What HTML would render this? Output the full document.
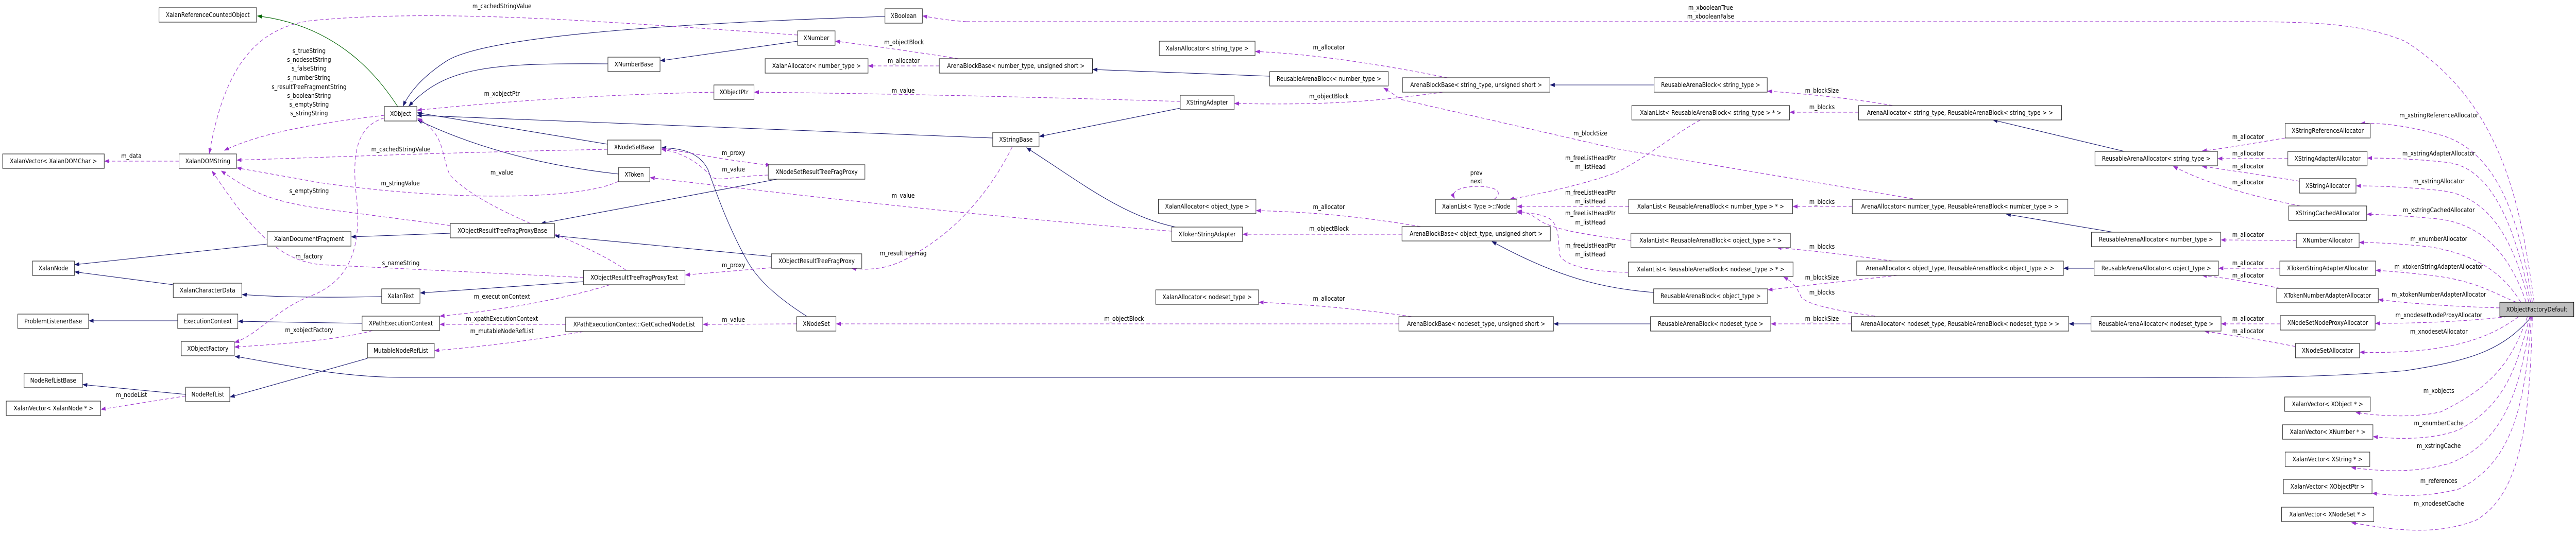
<!DOCTYPE html>
<html><head><meta charset="utf-8"><style>
html,body{margin:0;padding:0;background:#fff;width:100%;height:100%;overflow:hidden;}
svg{display:block;position:absolute;left:0;top:0;width:100vw;height:100vh;}
text{font-family:"DejaVu Sans","Liberation Sans",sans-serif;font-size:12.3px;fill:#000;}
.b{fill:#fff;stroke:#333;stroke-width:1.2;}
.e{fill:none;stroke:#191970;stroke-width:1.1;}
.g{fill:none;stroke:#006400;stroke-width:1.1;}
.d{fill:none;stroke:#9a32cd;stroke-width:1.1;stroke-dasharray:8,5;}
</style></head><body>
<svg viewBox="0 0 5784 1041" preserveAspectRatio="none" xmlns="http://www.w3.org/2000/svg">
<defs>
<marker id="ab" markerWidth="11" markerHeight="8" refX="10" refY="4" orient="auto" markerUnits="userSpaceOnUse"><path d="M0,0 L11,4 L0,8 z" fill="#191970"/></marker>
<marker id="ap" markerWidth="11" markerHeight="8" refX="10" refY="4" orient="auto" markerUnits="userSpaceOnUse"><path d="M0,0 L11,4 L0,8 z" fill="#9a32cd"/></marker>
<marker id="ag" markerWidth="11" markerHeight="8" refX="10" refY="4" orient="auto" markerUnits="userSpaceOnUse"><path d="M0,0 L11,4 L0,8 z" fill="#006400"/></marker>
</defs>

<path class="g" marker-end="url(#ag)" d="M893,207 C850,150 760,50 578,31"/>
<path class="e" marker-end="url(#ab)" d="M1987,32 C1700,40 1100,60 1000,120 Q930,160 905,206"/>
<path class="e" marker-end="url(#ab)" d="M1365,124 C1100,122 1000,130 918,206"/>
<path class="e" marker-end="url(#ab)" d="M1364,280 L937,219"/>
<path class="e" marker-end="url(#ab)" d="M1389,338 C1200,320 1050,280 938,233"/>
<path class="e" marker-end="url(#ab)" d="M2229,268 L937,224"/>
<path class="e" marker-end="url(#ab)" d="M1791,80 L1483,118"/>
<path class="e" marker-end="url(#ab)" d="M1811,614 C1740,575 1700,540 1680,510 C1640,450 1610,380 1590,330 C1570,295 1530,288 1486,287"/>
<path class="e" marker-end="url(#ab)" d="M1745,348 L1215,434"/>
<path class="e" marker-end="url(#ab)" d="M1732,498 L1246,458"/>
<path class="e" marker-end="url(#ab)" d="M1011,453 L789,460"/>
<path class="e" marker-end="url(#ab)" d="M600,474 L168,514"/>
<path class="e" marker-end="url(#ab)" d="M389,553 L168,528"/>
<path class="e" marker-end="url(#ab)" d="M1310,547 L944,569"/>
<path class="e" marker-end="url(#ab)" d="M857,576 C750,578 640,578 544,572"/>
<path class="e" marker-end="url(#ab)" d="M399,623 L200,623"/>
<path class="e" marker-end="url(#ab)" d="M813,628 L535,624"/>
<path class="e" marker-end="url(#ab)" d="M417,766 L186,747"/>
<path class="e" marker-end="url(#ab)" d="M825,696 L517,771"/>
<path class="e" marker-end="url(#ab)" d="M5684,615 C5620,680 5550,700 5400,720 C5200,735 5000,733 4800,733 L900,733 C760,732 650,710 528,692"/>
<path class="e" marker-end="url(#ab)" d="M2650,210 L2334,265"/>
<path class="e" marker-end="url(#ab)" d="M2640,441 C2520,420 2420,350 2305,287"/>
<path class="e" marker-end="url(#ab)" d="M2851,148 L2454,135"/>
<path class="e" marker-end="url(#ab)" d="M3714,165 L3481,165"/>
<path class="e" marker-end="url(#ab)" d="M3713,568 C3600,560 3500,540 3350,469"/>
<path class="e" marker-end="url(#ab)" d="M3706,629 L3489,629"/>
<path class="e" marker-end="url(#ab)" d="M4770,294 L4475,233"/>
<path class="e" marker-end="url(#ab)" d="M4745,451 L4505,416"/>
<path class="e" marker-end="url(#ab)" d="M4702,521 L4634,521"/>
<path class="e" marker-end="url(#ab)" d="M4695,629 L4646,629"/>

<path class="d" marker-end="url(#ap)" d="M402,313 L235,313"/>
<path class="d" marker-end="url(#ap)" d="M417,769 L227,795"/>
<path class="d" marker-end="url(#ap)" d="M1791,68 C1400,45 1000,15 700,40 C560,55 500,150 470,298"/>
<path class="d" marker-end="url(#ap)" d="M863,224 C700,240 580,260 504,292"/>
<path class="d" marker-end="url(#ap)" d="M1364,290 C1000,296 720,306 532,311"/>
<path class="d" marker-end="url(#ap)" d="M1389,352 C1300,390 1000,390 720,355 L532,326"/>
<path class="d" marker-end="url(#ap)" d="M1011,438 L720,405 C600,390 560,370 497,332"/>
<path class="d" marker-end="url(#ap)" d="M1310,539 L720,514 C620,505 560,440 476,332"/>
<path class="d" marker-end="url(#ap)" d="M863,229 C800,245 790,300 800,380 C810,460 800,540 700,574 C620,600 580,650 527,665"/>
<path class="d" marker-end="url(#ap)" d="M837,642 C760,660 640,668 527,674"/>
<path class="d" marker-end="url(#ap)" d="M1603,179 C1300,185 1100,200 937,214"/>
<path class="d" marker-end="url(#ap)" d="M2650,197 C2300,188 2000,182 1694,179"/>
<path class="d" marker-end="url(#ap)" d="M1486,288 C1560,298 1620,310 1730,321"/>
<path class="d" marker-end="url(#ap)" d="M1725,340 C1650,342 1620,352 1600,345 C1570,318 1540,298 1486,290"/>
<path class="d" marker-end="url(#ap)" d="M1406,525 C1300,460 1100,420 1010,340 C990,300 1000,260 938,230"/>
<path class="d" marker-end="url(#ap)" d="M2631,449 C2200,420 1800,380 1460,345"/>
<path class="d" marker-end="url(#ap)" d="M1732,520 L1539,534"/>
<path class="d" marker-end="url(#ap)" d="M2273,285 C2230,360 2160,440 2060,490 C2000,525 1950,525 1912,521"/>
<path class="d" marker-end="url(#ap)" d="M1370,553 C1250,585 1100,605 988,614"/>
<path class="d" marker-end="url(#ap)" d="M1270,630 L988,630"/>
<path class="d" marker-end="url(#ap)" d="M1310,644 C1200,660 1100,672 976,681"/>
<path class="d" marker-end="url(#ap)" d="M1789,629 L1579,630"/>
<path class="d" marker-end="url(#ap)" d="M2152,114 C2050,100 1950,88 1876,80"/>
<path class="d" marker-end="url(#ap)" d="M2109,128 L1950,128"/>
<path class="d" marker-end="url(#ap)" d="M3250,151 C3100,125 2950,105 2819,100"/>
<path class="d" marker-end="url(#ap)" d="M3240,179 C3100,195 3000,205 2772,201"/>
<path class="d" marker-end="url(#ap)" d="M3190,440 C3050,420 2950,412 2821,409"/>
<path class="d" marker-end="url(#ap)" d="M3148,455 L2791,455"/>
<path class="d" marker-end="url(#ap)" d="M3170,615 C3050,600 2950,592 2827,587"/>
<path class="d" marker-end="url(#ap)" d="M3141,629 L1878,629"/>
<path class="d" marker-end="url(#ap)" d="M4295,386 L3630,289 L3145,193 Q3125,180 3107,171"/>
<path class="d" marker-end="url(#ap)" d="M4250,205 C4150,190 4050,182 3969,177"/>
<path class="d" marker-end="url(#ap)" d="M4173,218 L4019,218"/>
<path class="d" marker-end="url(#ap)" d="M4159,401 L4026,401"/>
<path class="d" marker-end="url(#ap)" d="M4250,507 C4150,495 4050,485 3990,481"/>
<path class="d" marker-end="url(#ap)" d="M4260,535 C4150,545 4050,555 3970,563"/>
<path class="d" marker-end="url(#ap)" d="M4210,614 C4100,600 4060,590 4045,578 C4035,560 4030,550 4005,538"/>
<path class="d" marker-end="url(#ap)" d="M4157,629 L3977,629"/>
<path class="d" marker-end="url(#ap)" d="M3818,233 C3760,260 3710,299 3630,335 C3550,360 3450,378 3390,387"/>
<path class="d" marker-end="url(#ap)" d="M3657,401 L3407,401"/>
<path class="d" marker-end="url(#ap)" d="M3662,467 C3600,460 3500,450 3460,430 C3440,418 3430,412 3407,410"/>
<path class="d" marker-end="url(#ap)" d="M3656,529 C3570,528 3510,515 3502,495 C3498,470 3503,440 3480,425 C3460,415 3430,413 3407,413"/>
<path class="d" marker-end="url(#ap)" d="M3355,387 C3380,370 3350,362 3320,362 C3290,362 3255,368 3266,385"/>
<path class="d" d="M2170,42 L5000,42 C5200,42 5300,45 5400,80 C5620,200 5660,400 5690,587"/>
<path class="d" marker-end="url(#ap)" d="M2170,42 C2130,40 2100,35 2072,31"/>
<path class="d" marker-end="url(#ap)" d="M5131,268 C5060,278 5000,288 4945,293"/>
<path class="d" marker-end="url(#ap)" d="M5137,308 L4980,308"/>
<path class="d" marker-end="url(#ap)" d="M5163,352 C5080,340 5000,330 4945,323"/>
<path class="d" marker-end="url(#ap)" d="M5165,400 C5050,380 4950,355 4880,323"/>
<path class="d" marker-end="url(#ap)" d="M5156,467 L4987,466"/>
<path class="d" marker-end="url(#ap)" d="M5119,521 L4982,521"/>
<path class="d" marker-end="url(#ap)" d="M5120,560 C5050,548 5000,540 4945,535"/>
<path class="d" marker-end="url(#ap)" d="M5120,629 L4988,629"/>
<path class="d" marker-end="url(#ap)" d="M5154,673 C5080,660 5000,650 4950,643"/>
<path class="d" marker-end="url(#ap)" d="M5686,587 C5660,450 5620,290 5470,260 C5400,243 5340,238 5300,240"/>
<path class="d" marker-end="url(#ap)" d="M5682,587 C5650,450 5600,330 5500,316 C5420,308 5360,307 5316,307"/>
<path class="d" marker-end="url(#ap)" d="M5678,587 C5640,450 5580,380 5480,370 C5400,363 5340,361 5291,361"/>
<path class="d" marker-end="url(#ap)" d="M5672,587 C5630,480 5560,430 5460,424 C5400,419 5350,417 5315,416"/>
<path class="d" marker-end="url(#ap)" d="M5660,587 C5620,530 5560,495 5460,480 C5400,474 5340,471 5298,471"/>
<path class="d" marker-end="url(#ap)" d="M5650,587 C5600,570 5560,545 5460,535 C5400,529 5370,527 5335,525"/>
<path class="d" marker-end="url(#ap)" d="M5613,598 C5500,595 5420,590 5341,582"/>
<path class="d" marker-end="url(#ap)" d="M5630,615 C5560,622 5460,628 5334,628"/>
<path class="d" marker-end="url(#ap)" d="M5655,615 C5600,650 5540,670 5440,680 C5380,685 5330,685 5299,684"/>
<path class="d" marker-end="url(#ap)" d="M5675,615 C5640,700 5600,750 5480,800 C5420,812 5340,808 5290,801"/>
<path class="d" marker-end="url(#ap)" d="M5680,615 C5650,720 5620,790 5520,835 C5460,855 5380,853 5329,848"/>
<path class="d" marker-end="url(#ap)" d="M5682,615 C5660,760 5620,860 5500,900 C5420,920 5340,915 5280,908"/>
<path class="d" marker-end="url(#ap)" d="M5684,615 C5670,790 5640,900 5520,950 C5440,968 5370,962 5327,958"/>
<path class="d" marker-end="url(#ap)" d="M5686,615 C5680,820 5660,960 5560,1010 C5460,1045 5350,1025 5280,1015"/>

<g text-anchor="middle">
<text x="295" y="307">m_data</text>
<text x="295" y="771">m_nodeList</text>
<text x="1127" y="16">m_cachedStringValue</text>
<text x="694" y="103">s_trueString</text>
<text x="694" y="120">s_nodesetString</text>
<text x="694" y="137">s_falseString</text>
<text x="694" y="155">s_numberString</text>
<text x="694" y="173">s_resultTreeFragmentString</text>
<text x="694" y="190">s_booleanString</text>
<text x="694" y="207">s_emptyString</text>
<text x="694" y="224">s_stringString</text>
<text x="900" y="294">m_cachedStringValue</text>
<text x="899" y="360">m_stringValue</text>
<text x="694" y="375">s_emptyString</text>
<text x="694" y="502">m_factory</text>
<text x="900" y="515">s_nameString</text>
<text x="694" y="645">m_xobjectFactory</text>
<text x="1127" y="186">m_xobjectPtr</text>
<text x="1127" y="339">m_value</text>
<text x="1127" y="580">m_executionContext</text>
<text x="1127" y="623">m_xpathExecutionContext</text>
<text x="1127" y="647">m_mutableNodeRefList</text>
<text x="1647" y="301">m_proxy</text>
<text x="1647" y="333">m_value</text>
<text x="1647" y="519">m_proxy</text>
<text x="1647" y="625">m_value</text>
<text x="2030" y="86">m_objectBlock</text>
<text x="2029" y="122">m_allocator</text>
<text x="2028" y="180">m_value</text>
<text x="2028" y="384">m_value</text>
<text x="2028" y="496">m_resultTreeFrag</text>
<text x="2524" y="623">m_objectBlock</text>
<text x="2984" y="96">m_allocator</text>
<text x="2984" y="191">m_objectBlock</text>
<text x="2984" y="406">m_allocator</text>
<text x="2984" y="448">m_objectBlock</text>
<text x="2984" y="584">m_allocator</text>
<text x="3315" y="340">prev</text>
<text x="3315" y="356">next</text>
<text x="3571" y="263">m_blockSize</text>
<text x="3571" y="311">m_freeListHeadPtr</text>
<text x="3571" y="328">m_listHead</text>
<text x="3571" y="378">m_freeListHeadPtr</text>
<text x="3571" y="395">m_listHead</text>
<text x="3571" y="418">m_freeListHeadPtr</text>
<text x="3571" y="436">m_listHead</text>
<text x="3571" y="481">m_freeListHeadPtr</text>
<text x="3571" y="498">m_listHead</text>
<text x="3841" y="19">m_xbooleanTrue</text>
<text x="3841" y="36">m_xbooleanFalse</text>
<text x="4091" y="180">m_blockSize</text>
<text x="4091" y="212">m_blocks</text>
<text x="4091" y="396">m_blocks</text>
<text x="4091" y="483">m_blocks</text>
<text x="4091" y="543">m_blockSize</text>
<text x="4091" y="572">m_blocks</text>
<text x="4091" y="623">m_blockSize</text>
<text x="5048" y="270">m_allocator</text>
<text x="5048" y="302">m_allocator</text>
<text x="5048" y="327">m_allocator</text>
<text x="5048" y="358">m_allocator</text>
<text x="5048" y="460">m_allocator</text>
<text x="5048" y="515">m_allocator</text>
<text x="5048" y="539">m_allocator</text>
<text x="5048" y="623">m_allocator</text>
<text x="5048" y="647">m_allocator</text>
<text x="5476" y="228">m_xstringReferenceAllocator</text>
<text x="5476" y="302">m_xstringAdapterAllocator</text>
<text x="5476" y="356">m_xstringAllocator</text>
<text x="5476" y="412">m_xstringCachedAllocator</text>
<text x="5476" y="468">m_xnumberAllocator</text>
<text x="5476" y="522">m_xtokenStringAdapterAllocator</text>
<text x="5476" y="576">m_xtokenNumberAdapterAllocator</text>
<text x="5476" y="616">m_xnodesetNodeProxyAllocator</text>
<text x="5476" y="648">m_xnodesetAllocator</text>
<text x="5476" y="763">m_xobjects</text>
<text x="5476" y="826">m_xnumberCache</text>
<text x="5476" y="870">m_xstringCache</text>
<text x="5476" y="938">m_references</text>
<text x="5476" y="982">m_xnodesetCache</text>
</g>

<g text-anchor="middle">
<rect class="b" x="357" y="15" width="219" height="28"/><text x="466.5" y="33">XalanReferenceCountedObject</text>
<rect class="b" x="6" y="299" width="228" height="28"/><text x="120" y="317">XalanVector&lt; XalanDOMChar &gt;</text>
<rect class="b" x="402" y="299" width="129" height="28"/><text x="466.5" y="317">XalanDOMString</text>
<rect class="b" x="73" y="507" width="94" height="28"/><text x="120" y="525">XalanNode</text>
<rect class="b" x="600" y="450" width="188" height="28"/><text x="694" y="468">XalanDocumentFragment</text>
<rect class="b" x="389" y="550" width="154" height="28"/><text x="466" y="568">XalanCharacterData</text>
<rect class="b" x="40" y="610" width="159" height="28"/><text x="119.5" y="628">ProblemListenerBase</text>
<rect class="b" x="399" y="610" width="135" height="28"/><text x="466.5" y="628">ExecutionContext</text>
<rect class="b" x="407" y="663" width="119" height="28"/><text x="466.5" y="681">XObjectFactory</text>
<rect class="b" x="54" y="725" width="131" height="28"/><text x="119.5" y="743">NodeRefListBase</text>
<rect class="b" x="417" y="752" width="99" height="28"/><text x="466.5" y="770">NodeRefList</text>
<rect class="b" x="14" y="779" width="212" height="28"/><text x="120" y="797">XalanVector&lt; XalanNode * &gt;</text>
<rect class="b" x="863" y="207" width="73" height="28"/><text x="899.5" y="225">XObject</text>
<rect class="b" x="1365" y="111" width="117" height="28"/><text x="1423.5" y="129">XNumberBase</text>
<rect class="b" x="1364" y="272" width="120" height="28"/><text x="1424" y="290">XNodeSetBase</text>
<rect class="b" x="1389" y="325" width="70" height="28"/><text x="1424" y="343">XToken</text>
<rect class="b" x="1011" y="434" width="234" height="28"/><text x="1128" y="452">XObjectResultTreeFragProxyBase</text>
<rect class="b" x="1310" y="525" width="228" height="28"/><text x="1424" y="543">XObjectResultTreeFragProxyText</text>
<rect class="b" x="857" y="561" width="86" height="28"/><text x="900" y="579">XalanText</text>
<rect class="b" x="813" y="614" width="174" height="28"/><text x="900" y="632">XPathExecutionContext</text>
<rect class="b" x="1270" y="616" width="308" height="28"/><text x="1424" y="634">XPathExecutionContext::GetCachedNodeList</text>
<rect class="b" x="825" y="667" width="150" height="28"/><text x="900" y="685">MutableNodeRefList</text>
<rect class="b" x="1987" y="17" width="84" height="28"/><text x="2029" y="35">XBoolean</text>
<rect class="b" x="1791" y="60" width="84" height="28"/><text x="1833" y="78">XNumber</text>
<rect class="b" x="1718" y="114" width="231" height="28"/><text x="1833.5" y="132">XalanAllocator&lt; number_type &gt;</text>
<rect class="b" x="2109" y="114" width="344" height="28"/><text x="2281" y="132">ArenaBlockBase&lt; number_type, unsigned short &gt;</text>
<rect class="b" x="1603" y="165" width="90" height="28"/><text x="1648" y="183">XObjectPtr</text>
<rect class="b" x="1725" y="320" width="217" height="28"/><text x="1833.5" y="338">XNodeSetResultTreeFragProxy</text>
<rect class="b" x="1732" y="493" width="203" height="28"/><text x="1833.5" y="511">XObjectResultTreeFragProxy</text>
<rect class="b" x="1789" y="615" width="88" height="28"/><text x="1833" y="633">XNodeSet</text>
<rect class="b" x="2603" y="80" width="215" height="28"/><text x="2710.5" y="98">XalanAllocator&lt; string_type &gt;</text>
<rect class="b" x="2851" y="139" width="266" height="28"/><text x="2984" y="157">ReusableArenaBlock&lt; number_type &gt;</text>
<rect class="b" x="2650" y="185" width="121" height="28"/><text x="2710.5" y="203">XStringAdapter</text>
<rect class="b" x="2229" y="257" width="104" height="28"/><text x="2281" y="275">XStringBase</text>
<rect class="b" x="2601" y="387" width="219" height="28"/><text x="2710.5" y="405">XalanAllocator&lt; object_type &gt;</text>
<rect class="b" x="2631" y="441" width="159" height="28"/><text x="2710.5" y="459">XTokenStringAdapter</text>
<rect class="b" x="2595" y="563" width="231" height="28"/><text x="2710.5" y="581">XalanAllocator&lt; nodeset_type &gt;</text>
<rect class="b" x="3149" y="151" width="331" height="28"/><text x="3314.5" y="169">ArenaBlockBase&lt; string_type, unsigned short &gt;</text>
<rect class="b" x="3223" y="387" width="183" height="28"/><text x="3314.5" y="405">XalanList&lt; Type &gt;::Node</text>
<rect class="b" x="3148" y="440" width="333" height="28"/><text x="3314.5" y="458">ArenaBlockBase&lt; object_type, unsigned short &gt;</text>
<rect class="b" x="3141" y="615" width="347" height="28"/><text x="3314.5" y="633">ArenaBlockBase&lt; nodeset_type, unsigned short &gt;</text>
<rect class="b" x="3714" y="151" width="254" height="28"/><text x="3841" y="169">ReusableArenaBlock&lt; string_type &gt;</text>
<rect class="b" x="3664" y="205" width="354" height="28"/><text x="3841" y="223">XalanList&lt; ReusableArenaBlock&lt; string_type &gt; * &gt;</text>
<rect class="b" x="3657" y="387" width="368" height="28"/><text x="3841" y="405">XalanList&lt; ReusableArenaBlock&lt; number_type &gt; * &gt;</text>
<rect class="b" x="3662" y="453" width="358" height="28"/><text x="3841" y="471">XalanList&lt; ReusableArenaBlock&lt; object_type &gt; * &gt;</text>
<rect class="b" x="3656" y="509" width="370" height="28"/><text x="3841" y="527">XalanList&lt; ReusableArenaBlock&lt; nodeset_type &gt; * &gt;</text>
<rect class="b" x="3713" y="561" width="256" height="28"/><text x="3841" y="579">ReusableArenaBlock&lt; object_type &gt;</text>
<rect class="b" x="3706" y="615" width="270" height="28"/><text x="3841" y="633">ReusableArenaBlock&lt; nodeset_type &gt;</text>
<rect class="b" x="4173" y="205" width="456" height="28"/><text x="4401" y="223">ArenaAllocator&lt; string_type, ReusableArenaBlock&lt; string_type &gt; &gt;</text>
<rect class="b" x="4159" y="387" width="484" height="28"/><text x="4401" y="405">ArenaAllocator&lt; number_type, ReusableArenaBlock&lt; number_type &gt; &gt;</text>
<rect class="b" x="4169" y="507" width="464" height="28"/><text x="4401" y="525">ArenaAllocator&lt; object_type, ReusableArenaBlock&lt; object_type &gt; &gt;</text>
<rect class="b" x="4157" y="615" width="488" height="28"/><text x="4401" y="633">ArenaAllocator&lt; nodeset_type, ReusableArenaBlock&lt; nodeset_type &gt; &gt;</text>
<rect class="b" x="4704" y="294" width="275" height="28"/><text x="4841.5" y="312">ReusableArenaAllocator&lt; string_type &gt;</text>
<rect class="b" x="4696" y="451" width="290" height="28"/><text x="4841" y="469">ReusableArenaAllocator&lt; number_type &gt;</text>
<rect class="b" x="4702" y="507" width="279" height="28"/><text x="4841.5" y="525">ReusableArenaAllocator&lt; object_type &gt;</text>
<rect class="b" x="4695" y="615" width="292" height="28"/><text x="4841" y="633">ReusableArenaAllocator&lt; nodeset_type &gt;</text>
<rect class="b" x="5131" y="240" width="191" height="28"/><text x="5226.5" y="258">XStringReferenceAllocator</text>
<rect class="b" x="5137" y="294" width="178" height="28"/><text x="5226" y="312">XStringAdapterAllocator</text>
<rect class="b" x="5163" y="347" width="127" height="28"/><text x="5226.5" y="365">XStringAllocator</text>
<rect class="b" x="5139" y="400" width="175" height="28"/><text x="5226.5" y="418">XStringCachedAllocator</text>
<rect class="b" x="5156" y="453" width="141" height="28"/><text x="5226.5" y="471">XNumberAllocator</text>
<rect class="b" x="5119" y="507" width="215" height="28"/><text x="5226.5" y="525">XTokenStringAdapterAllocator</text>
<rect class="b" x="5112" y="560" width="228" height="28"/><text x="5226" y="578">XTokenNumberAdapterAllocator</text>
<rect class="b" x="5120" y="613" width="213" height="28"/><text x="5226.5" y="631">XNodeSetNodeProxyAllocator</text>
<rect class="b" x="5154" y="667" width="144" height="28"/><text x="5226" y="685">XNodeSetAllocator</text>
<rect x="5613" y="587" width="166" height="28" fill="#bfbfbf" stroke="#000" stroke-width="1.2"/><text x="5696" y="605">XObjectFactoryDefault</text>
<rect class="b" x="5130" y="771" width="192" height="28"/><text x="5226" y="789">XalanVector&lt; XObject * &gt;</text>
<rect class="b" x="5125" y="825" width="203" height="28"/><text x="5226.5" y="843">XalanVector&lt; XNumber * &gt;</text>
<rect class="b" x="5131" y="878" width="190" height="28"/><text x="5226" y="896">XalanVector&lt; XString * &gt;</text>
<rect class="b" x="5127" y="931" width="199" height="28"/><text x="5226.5" y="949">XalanVector&lt; XObjectPtr &gt;</text>
<rect class="b" x="5123" y="985" width="207" height="28"/><text x="5226.5" y="1003">XalanVector&lt; XNodeSet * &gt;</text>
</g>
</svg>
</body></html>
